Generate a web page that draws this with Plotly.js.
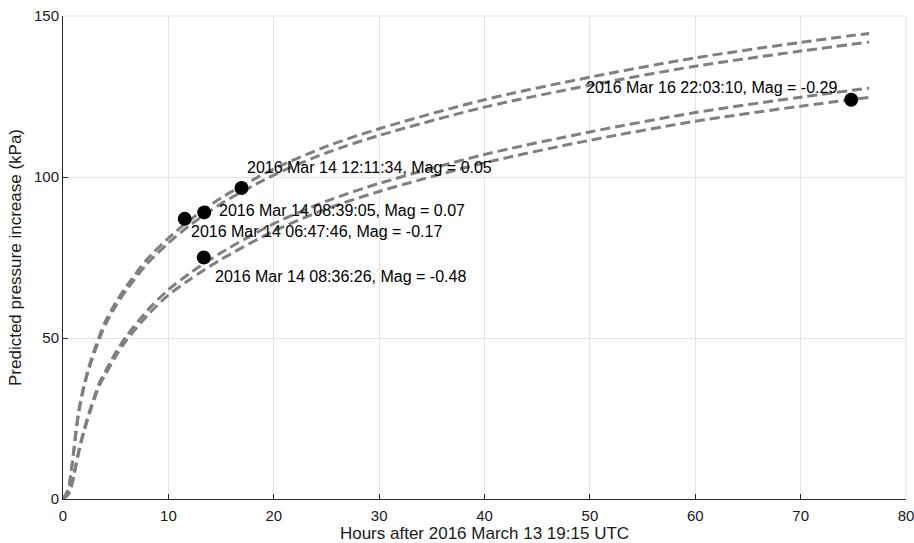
<!DOCTYPE html>
<html>
<head>
<meta charset="utf-8">
<script src="https://cdn.plot.ly/plotly-3.0.1.min.js"></script>
<style>html,body{margin:0;padding:0;background:#fff;}#chart{width:914px;height:543px;}</style>
</head>
<body>
<div id="chart"></div>
<script>
// Curve samples (hours after 2016-03-13 19:15 UTC)
const curveHours = [0, 0.5, 0.75, 1, 1.25, 1.5, 2, 2.5, 3, 3.5, 4, 5, 6, 8, 10, 12, 15, 20, 25, 30, 40, 50, 60, 70, 76.5];
const upperA = [0, 3, 8, 14.5, 21.5, 27.5, 35.5, 41.5, 46.5, 51, 55, 61, 66, 74.5, 81, 86.5, 93.5, 102.5, 109.5, 115, 124, 131, 137, 141.8, 144.6];
const upperB = [0, 2.9, 7.8, 14.2, 21.1, 27.0, 34.9, 40.8, 45.7, 50.1, 54.0, 59.9, 64.8, 73.1, 79.5, 84.9, 91.7, 100.6, 107.5, 112.9, 121.7, 128.5, 134.4, 139.1, 141.9];
const lowerA = [0, 1.5, 3.5, 7, 11, 15, 21.5, 27, 32, 36.5, 39.5, 45.5, 50.5, 58.5, 65, 70, 76.5, 85.5, 92.5, 98, 107, 114, 120, 124.8, 127.6];
const lowerB = [0, 1.4, 3.4, 6.8, 10.7, 14.6, 21.0, 26.4, 31.2, 35.6, 38.5, 44.3, 49.2, 57.0, 63.3, 68.1, 74.4, 83.2, 90.1, 95.5, 104.4, 111.4, 117.3, 122.0, 124.7];

// Events
const eventHours = [11.55, 13.40, 16.94, 13.36, 74.80];
const eventPressure = [87.0, 89.0, 96.6, 75.0, 124.0];
const eventLabels = [
  "2016 Mar 14 06:47:46, Mag = -0.17",
  "2016 Mar 14 08:39:05, Mag = 0.07",
  "2016 Mar 14 12:11:34, Mag = 0.05",
  "2016 Mar 14 08:36:26, Mag = -0.48",
  "2016 Mar 16 22:03:10, Mag = -0.29"
];

// label placement relative to each marker (pixels)
const labelStyle = [
  {xanchor: "left", xshift: 4, yshift: -13},
  {xanchor: "left", xshift: 13, yshift: 2},
  {xanchor: "left", xshift: 3, yshift: 20},
  {xanchor: "left", xshift: 9, yshift: -19},
  {xanchor: "right", xshift: -12, yshift: 12}
];

const FONT = "Liberation Sans, Arial, Helvetica, sans-serif";
const lineStyle = {color: "#808080", width: 3, dash: "10px,5px", shape: "spline", smoothing: 0.8};
const curves = [upperA, upperB, lowerA, lowerB].map(ys => ({
  type: "scatter", mode: "lines", x: curveHours, y: ys, line: lineStyle, hoverinfo: "skip", showlegend: false
}));

const points = {
  type: "scatter", mode: "markers", x: eventHours, y: eventPressure,
  marker: {color: "#000", size: 14, line: {width: 0}}, showlegend: false
};

const annotations = eventLabels.map((t, i) => Object.assign({
  x: eventHours[i], y: eventPressure[i], xref: "x", yref: "y", text: t, showarrow: false,
  yanchor: "middle", font: {family: FONT, size: 16, color: "#000"}
}, labelStyle[i]));

const axisCommon = {
  showline: true, linecolor: "#262626", linewidth: 1,
  ticks: "inside", ticklen: 5, tickcolor: "#262626", tickwidth: 1,
  showgrid: true, gridcolor: "#e3e3e3", gridwidth: 1, zeroline: false,
  ticklabeloverflow: "allow",
  tickfont: {family: FONT, size: 15, color: "#1a1a1a"}
};

const layout = {
  width: 914, height: 543,
  margin: {l: 63, r: 8, t: 16, b: 44},
  paper_bgcolor: "#fff", plot_bgcolor: "#fff",
  showlegend: false,
  xaxis: Object.assign({}, axisCommon, {
    range: [0, 80], dtick: 10, tick0: 0, ticklabelstandoff: 3,
    title: {text: "Hours after 2016 March 13 19:15 UTC", standoff: 7,
      font: {family: FONT, size: 17, color: "#1a1a1a"}}
  }),
  yaxis: Object.assign({}, axisCommon, {
    range: [0, 150], dtick: 50, tick0: 0,
    title: {text: "Predicted pressure increase (kPa)", standoff: 8,
      font: {family: FONT, size: 17, color: "#1a1a1a"}}
  }),
  annotations: annotations,
  shapes: [
    {type: "line", xref: "paper", yref: "paper", x0: 0, x1: 1, y0: 1, y1: 1, line: {color: "#e3e3e3", width: 1}, layer: "below"},
    {type: "line", xref: "paper", yref: "paper", x0: 1, x1: 1, y0: 0, y1: 1, line: {color: "#e3e3e3", width: 1}, layer: "below"}
  ]
};

Plotly.newPlot("chart", curves.concat([points]), layout, {displayModeBar: false, staticPlot: true});
</script>
</body>
</html>
